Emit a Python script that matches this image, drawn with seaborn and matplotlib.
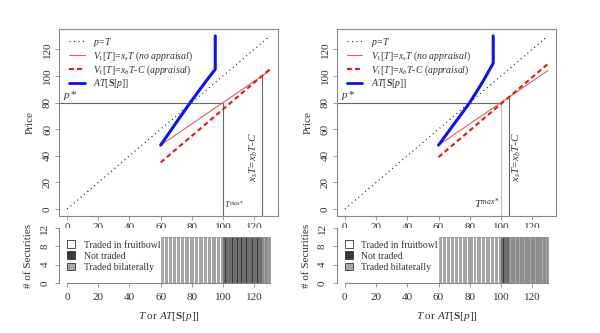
import numpy as np
import pandas as pd
import matplotlib
matplotlib.use("Agg")
import matplotlib.pyplot as plt
from matplotlib.lines import Line2D
from matplotlib.patches import Patch
import seaborn as sns

sns.set_style("white")
plt.rcParams['font.family'] = ['Liberation Serif', 'DejaVu Serif']
plt.rcParams['mathtext.fontset'] = 'custom'
plt.rcParams['mathtext.rm'] = 'Liberation Serif'
plt.rcParams['mathtext.it'] = 'Liberation Serif:italic'
plt.rcParams['mathtext.bf'] = 'Liberation Serif:bold'

# ---------------- data ----------------
diag_T = [0, 130]
diag_p = [0, 130]
T_line = [60, 130]

# left panel
V_noapp_L = [48, 104]
V_app_L = [35, 105]
AT_x_L = [60, 70, 79, 90, 95, 95]
AT_y_L = [48, 65, 80, 97.5, 105, 130]
pstar_L = 80
Tmax_L = 100
Tcross_L = 125
Vcross_L = 100

# right panel
V_noapp_R = [48, 104]
V_app_R = [39, 109]
AT_x_R = [60, 70, 80, 88, 95, 95]
AT_y_R = [48, 64, 80, 95, 109.5, 130]
pstar_R = 80
Tmax_R = 100
Tcross_R = 105
Vcross_R = 84

# securities (strip)
sec_T = [60.0, 60.9, 61.6, 62.8, 63.5, 64.1, 65.3, 66.0, 66.6, 67.9, 68.4, 69.2,
         70.5, 71.1, 71.8, 72.9, 73.6, 74.2, 75.4, 76.1, 77.0, 77.6, 78.8, 79.6,
         79.9, 80.9, 81.7, 82.5, 83.2, 84.4, 85.0, 85.9, 86.5, 87.7, 88.3, 89.1,
         90.2, 90.8, 91.9, 92.6, 93.3, 94.5, 95.1, 96.0, 96.8, 97.7, 98.4, 99.3,
         100.0, 100.8, 101.6, 102.3, 103.1, 103.9, 104.5, 105.4, 106.2, 107.0,
         107.9, 108.5, 109.6, 110.3, 111.0, 111.9, 112.7, 113.4, 114.2, 115.1,
         115.8, 116.6, 117.5, 118.2, 119.0, 119.9, 120.7, 121.4, 122.3, 123.0,
         123.8, 124.6, 125.0, 125.9, 126.7, 127.5, 128.3, 129.2, 130.0]
sec_height = 10

x_ticks = [0, 20, 40, 60, 80, 100, 120]
y_ticks = [0, 20, 40, 60, 80, 100, 120]
strip_y_ticks = [0, 4, 8, 12]

lab_diag = r"$p\!=\!T$"
lab_noapp = r"$V_1[T]\!=\!x_sT\ (no\ appraisal)$"
lab_app = r"$V_1[T]\!=\!x_bT$-$C\ (appraisal)$"
lab_AT = r"$AT[\mathbf{S}[p]]$"
lab_cross = r"$x_sT\!=\!x_bT$-$C$"
lab_Tmax = r"$T^{max*}$"
lab_pstar = r"$p*$"
cat_labels = ["Traded in fruitbowl", "Not traded", "Traded bilaterally"]
cat_colors = ["#ffffff", "#3a3a3a", "#a8a8a8"]

# ---------------- styling ----------------
RED_LIGHT = "#e06060"
RED = "#ee1111"
BLUE = "#0a14f0"
GRID = "#666666"
AX = "#888888"
TXT = "#333333"
FS = 8
LFS = 7

fig = plt.figure(figsize=(6.0, 3.33), dpi=100)

def main_panel(ax, V_no, V_app, ATx, ATy, pstar, Tmax, Tcross, Vcross, tmax_right, light_tmax):
    sns.lineplot(x=diag_T, y=diag_p, ax=ax, color="#222222", lw=0.8)
    ax.lines[-1].set_dashes((1, 3))
    sns.lineplot(x=T_line, y=V_no, ax=ax, color=RED_LIGHT, lw=0.8)
    sns.lineplot(x=T_line, y=V_app, ax=ax, color=RED, lw=1.5)
    ax.lines[-1].set_dashes((2.3, 1.6))
    sns.lineplot(x=ATx, y=ATy, ax=ax, color=BLUE, lw=2.2, sort=False, estimator=None)
    ax.hlines(pstar, -5.2, Tmax, color=GRID, lw=0.8, zorder=1)
    ax.vlines(Tmax, -5.2, pstar, color=("#bbbbbb" if light_tmax else GRID), lw=0.8, zorder=1)
    ax.vlines(Tcross, -5.2, Vcross, color=GRID, lw=0.8, zorder=1)
    ax.text(-2.5, pstar + 0.5, lab_pstar, fontsize=FS, color=TXT, va="bottom", ha="left")
    if tmax_right:
        ax.text(Tmax + 0.5, -0.5, lab_Tmax, fontsize=6, color=TXT, va="bottom", ha="left")
    else:
        ax.text(Tmax - 0.5, -1.5, lab_Tmax, fontsize=FS, color=TXT, va="bottom", ha="right")
    if tmax_right:
        ax.text(Tcross - 1.2, 39, lab_cross, fontsize=FS, color=TXT, rotation=90,
                va="center", ha="right")
    else:
        ax.text(Tcross + 1.2, 39, lab_cross, fontsize=FS, color=TXT, rotation=90,
                va="center", ha="left")
    ax.set_xlim(-5.2, 135.2)
    ax.set_ylim(-5.2, 135.2)
    ax.set_xticks(x_ticks)
    ax.set_yticks(y_ticks)
    ax.set_xticklabels([str(v) for v in x_ticks], fontsize=FS, color=TXT)
    ax.set_yticklabels([str(v) for v in y_ticks], fontsize=FS, color=TXT, rotation=90, va="center")
    ax.tick_params(axis="both", direction="out", length=3, width=0.6, color=AX, pad=2,
                   bottom=True, left=True)
    for s in ax.spines.values():
        s.set_color(AX)
        s.set_linewidth(0.8)
    ax.set_ylabel("Price", fontsize=FS, color=TXT, labelpad=6)
    ax.set_xlabel("")
    handles = [Line2D([], [], color="#222222", lw=0.8, dashes=(1, 3)),
               Line2D([], [], color=RED_LIGHT, lw=0.8),
               Line2D([], [], color=RED, lw=1.5, dashes=(2.3, 1.6)),
               Line2D([], [], color=BLUE, lw=2.0)]
    ax.legend(handles, [lab_diag, lab_noapp, lab_app, lab_AT], loc="upper left",
              bbox_to_anchor=(0.02, 0.995), frameon=False, fontsize=LFS,
              handlelength=1.6, handletextpad=0.9, labelspacing=0.05, borderaxespad=0.2,
              labelcolor=TXT)

def strip_panel(ax, Tmax, Tcross):
    T = np.array(sec_T)
    lefts = T[:-1]
    widths = np.diff(T)
    cats = np.where(lefts < Tmax, 0, np.where(lefts < Tcross - 0.01, 1, 2))
    df = pd.DataFrame({"left": lefts, "width": widths, "cat": cats})
    for c in range(3):
        d = df[df.cat == c]
        ax.bar(d["left"], sec_height, width=d["width"], align="edge",
               color=cat_colors[c], edgecolor="#7a7a7a", linewidth=0.4)
    ax.set_xlim(-5.2, 135.2)
    ax.set_ylim(0, 12)
    sns.despine(ax=ax, top=True, right=True)
    ax.spines["bottom"].set_bounds(0, 130)
    ax.spines["left"].set_bounds(0, 12)
    for s in ["bottom", "left"]:
        ax.spines[s].set_color(AX)
        ax.spines[s].set_linewidth(0.8)
    ax.set_xticks(x_ticks)
    ax.set_yticks(strip_y_ticks)
    ax.set_xticklabels([str(v) for v in x_ticks], fontsize=FS, color=TXT)
    ax.set_yticklabels([str(v) for v in strip_y_ticks], fontsize=FS, color=TXT, rotation=90, va="center")
    ax.tick_params(axis="both", direction="out", length=3, width=0.6, color=AX, pad=4,
                   bottom=True, left=True)
    ax.set_ylabel("# of Securities", fontsize=FS, color=TXT, labelpad=5)
    ax.set_xlabel(r"$T$ or $AT[\mathbf{S}[p]]$", fontsize=FS, color=TXT, labelpad=6)
    handles = [Patch(facecolor=cat_colors[i], edgecolor="#333333", linewidth=0.6) for i in range(3)]
    ax.legend(handles, cat_labels, loc="upper left", bbox_to_anchor=(0.01, 0.88),
              frameon=False, fontsize=LFS, handlelength=0.8, handleheight=0.8,
              handletextpad=0.9, labelspacing=0.2, borderaxespad=0.2, labelcolor=TXT)

axL = fig.add_axes([0.0983, 0.3514, 0.365, 0.5615])
axR = fig.add_axes([0.5612, 0.3514, 0.3655, 0.5615])
sL = fig.add_axes([0.0983, 0.1502, 0.365, 0.1651])
sR = fig.add_axes([0.5612, 0.1502, 0.3655, 0.1651])

main_panel(axL, V_noapp_L, V_app_L, AT_x_L, AT_y_L, pstar_L, Tmax_L, Tcross_L, Vcross_L, True, False)
main_panel(axR, V_noapp_R, V_app_R, AT_x_R, AT_y_R, pstar_R, Tmax_R, Tcross_R, Vcross_R, False, True)
strip_panel(sL, Tmax_L, Tcross_L)
strip_panel(sR, Tmax_R, Tcross_R)

fig.savefig("out.png", dpi=100)
